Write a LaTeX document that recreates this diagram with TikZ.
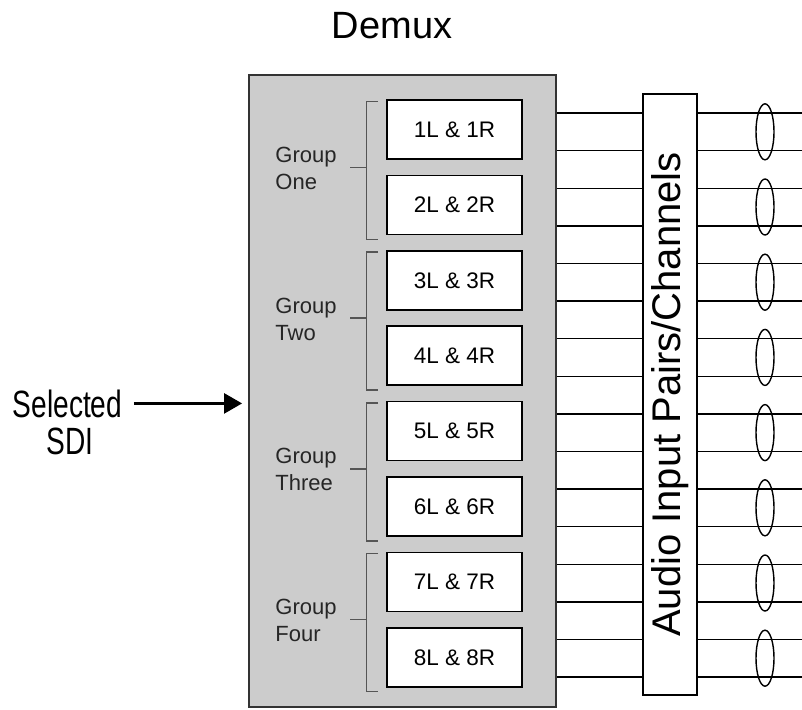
\documentclass[tikz,border=0pt]{standalone}
\usepackage{fontspec}
\setmainfont{Liberation Sans}
\newfontfamily\narrowsans[FakeStretch=0.74]{Liberation Sans}
\usepackage{tikz}
\usetikzlibrary{positioning, arrows.meta, shapes.geometric, calc}
\definecolor{demuxgray}{RGB}{204,204,204}
\definecolor{bracketgray}{RGB}{85,85,85}
\tikzset{
    demuxbox/.style={draw=black!80, fill=demuxgray, line width=1.8pt, minimum width=307pt, minimum height=632pt, inner sep=0pt},
    pairbox/.style={draw, fill=white, line width=1.6pt, minimum width=135pt, minimum height=59pt, inner sep=0pt, font=\fontsize{22.5}{26}\selectfont},
    audiobox/.style={draw, fill=white, line width=1.6pt, rotate=90, minimum width=601pt, minimum height=54pt, inner sep=0pt, font=\fontsize{40}{44}\selectfont},
    grouplabel/.style={align=left, anchor=west, inner sep=0pt, font=\fontsize{22}{27}\selectfont, text=black!85},
    bracket/.style={draw=bracketgray, line width=1.4pt},
    wire/.style={line width=1.4pt},
    pairloop/.style={ellipse, draw, line width=1.4pt, minimum width=18pt, minimum height=56pt, inner sep=0pt},
    arrow/.style={-{Triangle[length=18pt, width=20pt]}, line width=2.5pt}
}

\begin{document}
\begin{tikzpicture}[x=1pt, y=-1pt]
        \useasboundingbox (0,0) rectangle (802,709);

        % Demux block and title
        \node[demuxbox] (demux) at (402.5,391) {};
        \node[anchor=base, font=\fontsize{38}{40}\selectfont] (title) at (392,39) {Demux};

        % Input
        \node[anchor=base, font=\narrowsans\fontsize{38}{40}\selectfont] (sel) at (67.5,417) {Selected};
        \node[anchor=base, font=\narrowsans\fontsize{38}{40}\selectfont] (sdi) at (70,454) {SDI};
        \draw[arrow, shorten >=6pt] ([xshift=8pt]sel.east) -- (demux.west |- sel.east);

        % Channel pair boxes
        \foreach \k in {1,...,8}
            \node[pairbox] (ch\k) at (454.5,{129.5+75.4*(\k-1)}) {\k L \& \k R};

        % Group brackets and labels
        \foreach \g/\gname in {1/One, 2/Two, 3/Three, 4/Four} {
            \pgfmathtruncatemacro\ta{2*\g-1}
            \pgfmathtruncatemacro\tb{2*\g}
            \coordinate (gm\g) at ($(ch\ta.north west)!0.5!(ch\tb.south west)$);
            \draw[bracket] ($(ch\ta.north west)+(-8,2)$) -| ($(ch\tb.south west)+(-20,4)$) -- ++(12,0);
            \draw[bracket] ($(gm\g)+(-36,0)$) -- ($(gm\g)+(-20,0)$);
            \node[grouplabel] (grp\g) at ($(gm\g)+(-111,1)$) {Group\\\gname};
        }

        % Audio input pairs
        \node[audiobox] (audio) at (670,394.5) {Audio Input Pairs/Channels};

        % Wires out of the demux
        \foreach \i in {0,...,15} {
            \coordinate (w\i) at (0,{113+37.6*\i});
            \coordinate (e\i) at (802,{113+37.6*\i});
            \draw[wire] (demux.east |- w\i) -- (audio.north |- w\i);
            \draw[wire] (audio.south |- w\i) -- (e\i);
        }

        % Pair loops
        \foreach \p in {0,...,7}
            \node[pairloop] (loop\p) at (765,{113+37.6*(2*\p+0.5)}) {};
    \end{tikzpicture}
\end{document}
